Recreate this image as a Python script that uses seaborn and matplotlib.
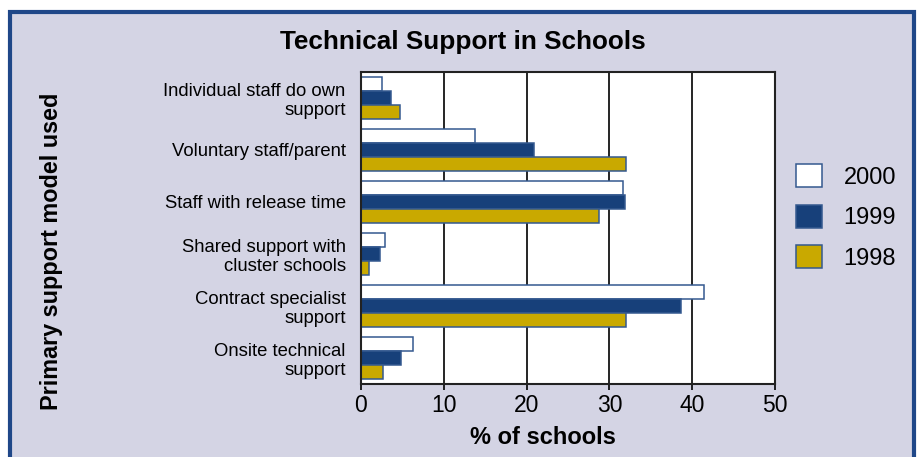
import matplotlib
matplotlib.use('Agg')
import matplotlib.pyplot as plt
import matplotlib.patches as mpatches
import seaborn as sns
import pandas as pd

# data
models = ['Individual staff do own\nsupport',
          'Voluntary staff/parent',
          'Staff with release time',
          'Shared support with\ncluster schools',
          'Contract specialist\nsupport',
          'Onsite technical\nsupport']
years = ['2000', '1999', '1998']
pct_2000 = [2.5, 13.8, 31.7, 2.9, 41.4, 6.3]
pct_1999 = [3.6, 20.9, 31.9, 2.3, 38.6, 4.8]
pct_1998 = [4.7, 32.0, 28.7, 1.0, 32.0, 2.7]
colors = ['#FFFFFF', '#17407A', '#C9A900']

rows = []
for yr, vals in zip(years, [pct_2000, pct_1999, pct_1998]):
    for m, v in zip(models, vals):
        rows.append({'model': m, 'year': yr, 'pct': v})
df = pd.DataFrame(rows)

sns.set_style('white')
plt.rcParams['font.family'] = ['Liberation Sans', 'DejaVu Sans']
plt.rcParams['text.color'] = 'black'
plt.rcParams['xtick.color'] = 'black'
plt.rcParams['ytick.color'] = 'black'

W, H = 920, 457
fig = plt.figure(figsize=(W / 100, H / 100), dpi=100, facecolor='white')

# lavender panel with dark blue frame, kept behind the axes
bg = mpatches.Rectangle((10 / W, -0.05), 904 / W, 1 - 12 / H + 0.05,
                        transform=fig.transFigure, facecolor='#D4D4E4',
                        edgecolor='#1F4788', linewidth=3, zorder=-5)
fig.patches.append(bg)

ax = fig.add_axes([361 / W, 1 - 384 / H, 414 / W, 312 / H])
ax.set_facecolor('white')

sns.barplot(data=df, y='model', x='pct', hue='year', order=models,
            hue_order=years, palette=colors, saturation=1, orient='h',
            width=0.8, edgecolor='#34598F', linewidth=1.1, ax=ax,
            legend=False)

ax.set_xlim(0, 50)
ax.set_xticks([0, 10, 20, 30, 40, 50])
ax.set_axisbelow(True)
ax.grid(axis='x', color='black', linewidth=1.2)
ax.grid(axis='y', visible=False)
for s in ax.spines.values():
    s.set_color('#222222')
    s.set_linewidth(1.5)
ax.tick_params(axis='x', labelsize=16.5, length=4, width=1.2, color='black',
               direction='out', bottom=True, pad=3)
ax.tick_params(axis='y', length=0, pad=11)
# right-aligned two line labels
ax.set_yticks(range(len(models)))
ax.set_yticklabels(models, fontsize=13.3, ha='right', ma='right',
                   linespacing=1.18)
ax.set_xlabel('')
ax.set_ylabel('')

fig.text(463 / W, 1 - 42 / H, 'Technical Support in Schools', ha='center',
         va='center', fontsize=18.8, fontweight='bold')
fig.text(543 / W, 1 - 437 / H, '% of schools', ha='center', va='center',
         fontsize=17, fontweight='bold')
fig.text(52 / W, 1 - 251 / H, 'Primary support model used', ha='center',
         va='center', rotation=90, fontsize=16.8, fontweight='bold')

handles = [mpatches.Patch(facecolor=c, edgecolor='#34598F', linewidth=1.1)
           for c in colors]
fig.legend(handles, years, loc='center left',
           bbox_to_anchor=(796 / W, 1 - 217 / H), frameon=False,
           fontsize=17, handlelength=1.12, handleheight=1.12,
           handletextpad=0.9, labelspacing=0.68, borderpad=0,
           borderaxespad=0)

fig.savefig('out.png', dpi=100, facecolor=fig.get_facecolor())
